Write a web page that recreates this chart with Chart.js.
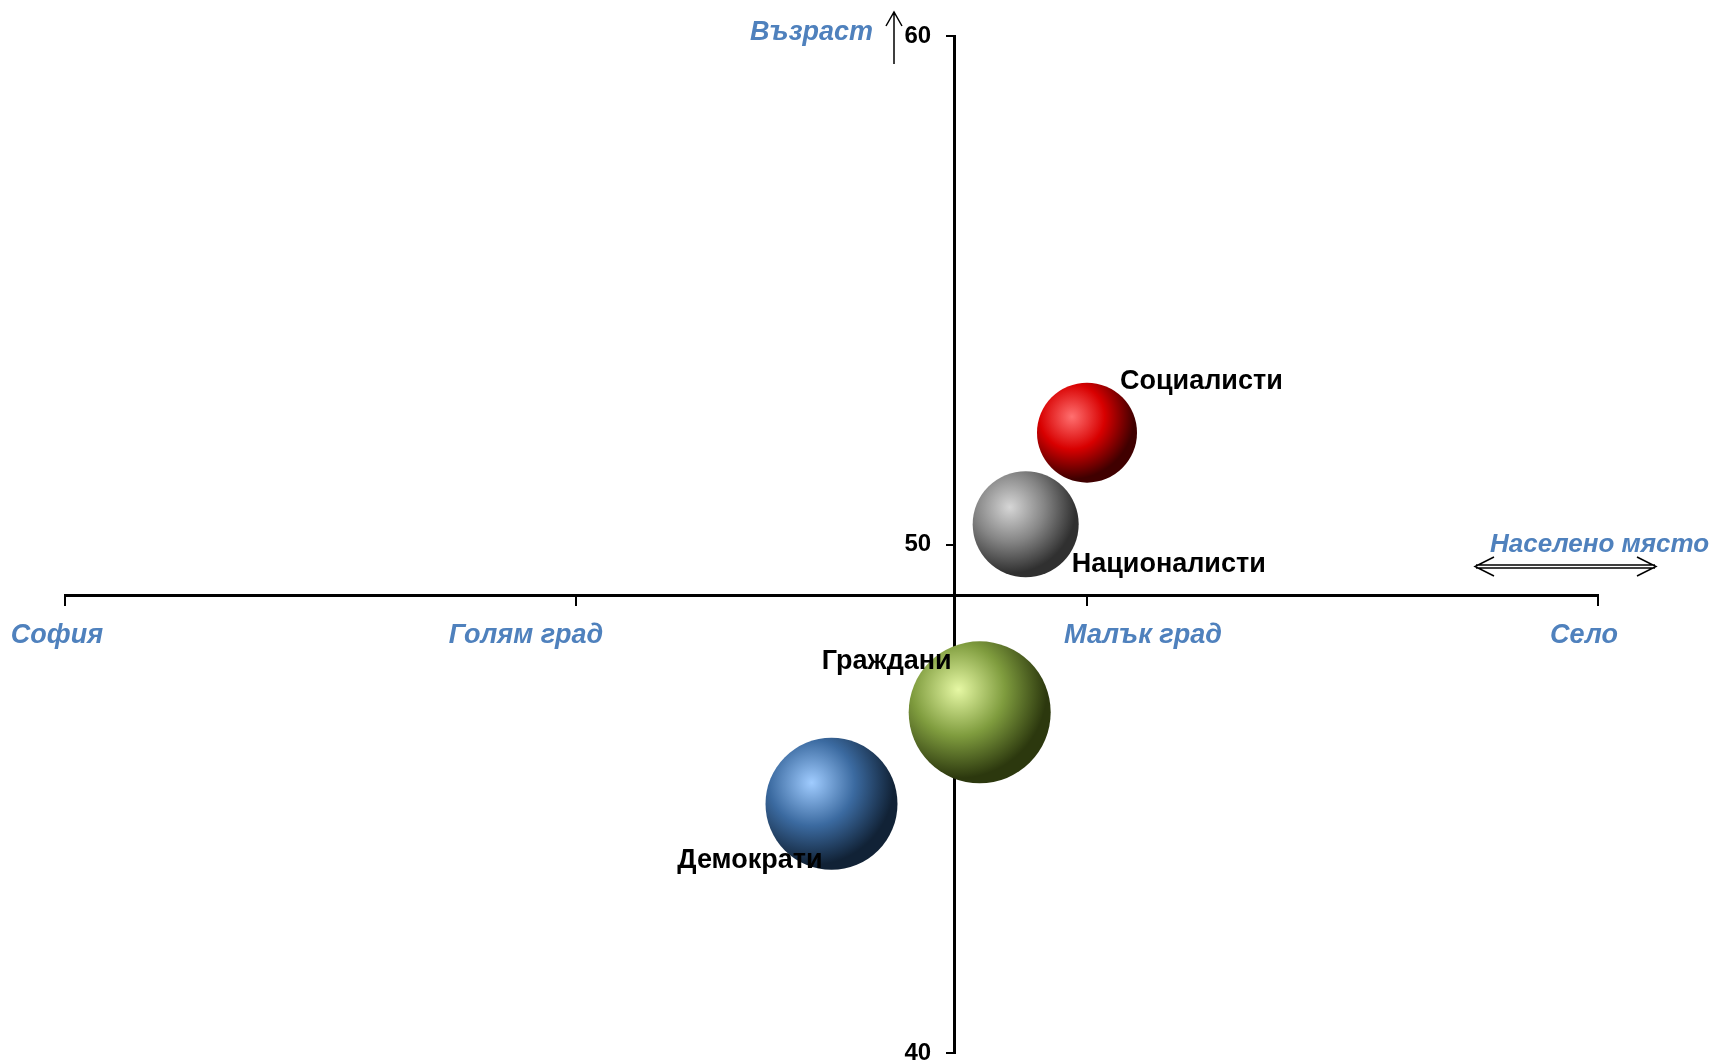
<!DOCTYPE html>
<html>
<head>
<meta charset="utf-8">
<script src="https://cdn.jsdelivr.net/npm/chart.js@4/dist/chart.umd.min.js"></script>
<style>
  html, body { margin: 0; padding: 0; background: #fff; }
  #wrap { width: 1718px; height: 1064px; }
</style>
</head>
<body>
<div id="wrap"><canvas id="chart" width="1718" height="1064"></canvas></div>
<script>
// данни
const parties = ["Социалисти", "Националисти", "Граждани", "Демократи"];
const settlement = [3.0, 2.88, 2.79, 2.5];   // 1 = София ... 4 = Село
const age = [52.2, 50.4, 46.7, 44.9];
const bubbleSize = [50, 53, 71, 66];
const settlementLabels = ["София", "Голям град", "Малък град", "Село"];
const ageTicks = [40, 50, 60];

// стилове
const baseColors = ["#d80000", "#858585", "#7f9c3e", "#3b6aa0"];
const lightColors = ["#ff7070", "#d6d6d6", "#e6f8a4", "#a0ccff"];
const darkColors = ["#400000", "#303030", "#2c380e", "#112236"];
const partyLabelOffsets = [
    { dx: 33, dy: -51, align: "left" },
    { dx: 46, dy: 40, align: "left" },
    { dx: -28, dy: -51, align: "right" },
    { dx: -9, dy: 57, align: "right" },
];
const catLabelOffsets = [-8, -50, 56, -14];
const blue = "#4f81bd";

function sphereFill(context) {
    const i = context.dataIndex;
    if (context.type !== "data") return baseColors[i];
    const chart = context.chart;
    const xs = chart.scales.x, ys = chart.scales.y;
    const raw = context.raw;
    const cx = xs.getPixelForValue(raw.x);
    const cy = ys.getPixelForValue(raw.y);
    const r = raw.r;
    if (!isFinite(cx) || !isFinite(cy)) return baseColors[i];
    const fx = cx - r * 0.3, fy = cy - r * 0.32;
    const g = chart.ctx.createRadialGradient(fx, fy, 0, fx, fy, r * 1.45);
    g.addColorStop(0, lightColors[i]);
    g.addColorStop(0.45, baseColors[i]);
    g.addColorStop(0.86, darkColors[i]);
    g.addColorStop(1, darkColors[i]);
    return g;
}

const annotate = {
    id: "annotate",
    afterDatasetsDraw(chart) {
        const ctx = chart.ctx;
        const xs = chart.scales.x, ys = chart.scales.y;
        ctx.save();
        ctx.font = "bold 27px 'Liberation Sans', Arial, sans-serif";
        ctx.fillStyle = "#000";
        ctx.textBaseline = "middle";
        parties.forEach((p, i) => {
            const o = partyLabelOffsets[i];
            ctx.textAlign = o.align;
            ctx.fillText(p, xs.getPixelForValue(settlement[i]) + o.dx, ys.getPixelForValue(age[i]) + o.dy);
        });
        ctx.restore();
    },
    afterDraw(chart) {
        const ctx = chart.ctx;
        const xs = chart.scales.x, ys = chart.scales.y;
        const axisY = ys.getPixelForValue(49);
        ctx.save();
        ctx.fillStyle = blue;
        ctx.font = "italic bold 27px 'Liberation Sans', Arial, sans-serif";
        ctx.textBaseline = "middle";
        ctx.textAlign = "center";
        settlementLabels.forEach((lab, i) => {
            ctx.fillText(lab, xs.getPixelForValue(i + 1) + catLabelOffsets[i], axisY + 40);
        });
        ctx.textAlign = "right";
        ctx.fillText("Възраст", 873, 33);
        ctx.textAlign = "left";
        ctx.font = "italic bold 26px 'Liberation Sans', Arial, sans-serif";
        ctx.fillText("Населено място", 1490, 545);

        // стрелки
        ctx.strokeStyle = "#000";
        ctx.lineWidth = 1.5;
        ctx.beginPath();
        ctx.moveTo(894, 64); ctx.lineTo(894, 12);
        ctx.moveTo(886, 26); ctx.lineTo(894, 12); ctx.lineTo(902, 26);
        ctx.stroke();

        ctx.beginPath();
        ctx.moveTo(1476, 565); ctx.lineTo(1655, 565);
        ctx.moveTo(1476, 568); ctx.lineTo(1655, 568);
        ctx.moveTo(1494, 557); ctx.lineTo(1475, 566.5); ctx.lineTo(1494, 576);
        ctx.moveTo(1637, 557); ctx.lineTo(1656, 566.5); ctx.lineTo(1637, 576);
        ctx.stroke();
        ctx.restore();
    },
};

new Chart(document.getElementById("chart").getContext("2d"), {
    type: "bubble",
    data: {
        datasets: [
            {
                label: "Партии",
                data: parties.map((p, i) => ({ x: settlement[i], y: age[i], r: bubbleSize[i] })),
                backgroundColor: sphereFill,
                borderWidth: 0,
                hoverBorderWidth: 0,
            },
        ],
    },
    options: {
        responsive: false,
        animation: false,
        events: [],
        layout: { autoPadding: false, padding: { left: 65, right: 120, top: 36, bottom: 11 } },
        plugins: { legend: { display: false }, tooltip: { enabled: false } },
        scales: {
            x: {
                type: "linear",
                min: 1,
                max: 4,
                position: { y: 49 },
                afterFit: (s) => { s.height = 0; s.paddingLeft = 0; s.paddingRight = 0; },
                ticks: { stepSize: 1, display: false },
                grid: { drawOnChartArea: false, drawTicks: true, tickLength: 9, color: "#000", lineWidth: 2 },
                border: { color: "#000", width: 3 },
            },
            y: {
                type: "linear",
                min: 40,
                max: 60,
                position: { x: 2.74 },
                afterFit: (s) => { s.width = 0; s.paddingTop = 0; s.paddingBottom = 0; },
                afterBuildTicks: (s) => { s.ticks = ageTicks.map((v) => ({ value: v })); },
                ticks: {
                    color: "#000",
                    // етикетите при централна ос стоят до самата ос, затова отстъп с интервали
                    callback: (v) => v + "\u2007\u2009\u2009",
                    font: { family: "'Liberation Sans', Arial, sans-serif", size: 24, weight: "bold" },
                },
                grid: { drawOnChartArea: false, drawTicks: true, tickLength: 7, color: "#000", lineWidth: 2 },
                border: { color: "#000", width: 3 },
            },
        },
    },
    plugins: [annotate],
});
</script>
</body>
</html>
